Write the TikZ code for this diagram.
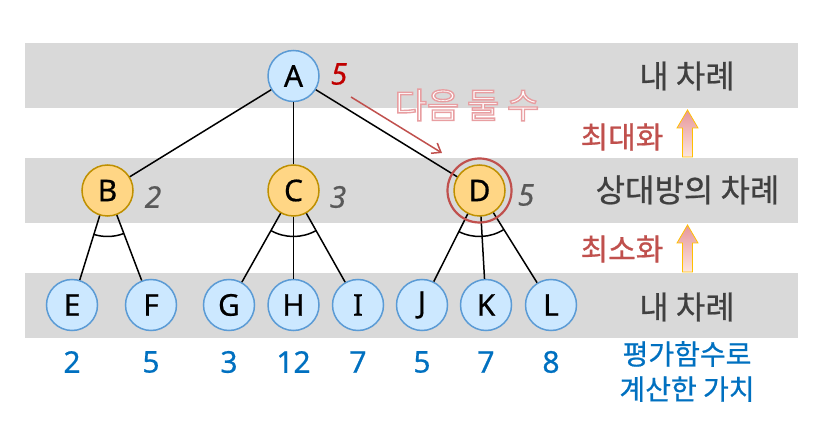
\documentclass[tikz,border=0pt]{standalone}
\usepackage{fontspec}
\setmainfont[FakeBold=0.6]{Noto Sans}
\newfontfamily\kr[FakeBold=0.7]{Noto Sans CJK KR}
\newfontfamily\krglow[FakeBold=4]{Noto Sans CJK KR}
\usetikzlibrary{positioning,
                arrows.meta,                % arrow tips
                calc}                       % let and angle computations

\definecolor{band}{RGB}{217,217,217}
\definecolor{leaffill}{RGB}{204,232,255}
\definecolor{leafdraw}{RGB}{91,155,213}
\definecolor{minfill}{RGB}{255,214,133}
\definecolor{mindraw}{RGB}{191,144,0}
\definecolor{redline}{RGB}{192,80,77}
\definecolor{darkred}{RGB}{192,0,0}
\definecolor{valblue}{RGB}{0,112,192}
\definecolor{labgray}{RGB}{64,64,64}
\definecolor{scoregray}{RGB}{89,89,89}
\definecolor{arrowtop}{RGB}{230,150,155}
\definecolor{arrowbot}{RGB}{252,230,222}
\definecolor{arrowedge}{RGB}{255,192,0}

% white letters with a pink rim
\newcommand{\glowtext}[1]{{\krglow\color{white}\special{pdf:literal direct 0.91 0.62 0.63 RG}#1}}

\tikzset{
  leaf/.style={circle, draw=leafdraw, fill=leaffill, line width=1.5pt,
               minimum size=51pt, inner sep=0pt, font=\fontsize{30}{32}\selectfont},
  minnode/.style={leaf, draw=mindraw, fill=minfill},
  edge/.style={line width=1.5pt, black},
  score/.style={font=\fontsize{30}{32}\selectfont\itshape, text=scoregray},
  value/.style={font=\fontsize{30}{32}\selectfont, text=valblue},
  turn/.style={font=\kr\fontsize{32}{34}\selectfont, text=labgray},
  optlabel/.style={font=\kr\fontsize{30}{32}\selectfont, text=redline},
  uparrow/.style={draw=arrowedge, line width=0.8pt, top color=arrowtop, bottom color=arrowbot},
}

\begin{document}
\begin{tikzpicture}[x=1pt, y=1pt]
    \useasboundingbox (0,0) rectangle (821,439);

    % gray bands for the three levels
    \foreach \yb in {331,216,101}
      \fill[band] (25,\yb) rectangle (798,\yb+65);

    % tree nodes
    \node[leaf] (A) at (293.5,363) {A};
    \node[minnode] (B) at (107.5,248.5) {B};
    \node[minnode] (C) at (293.5,248.5) {C};
    \node[minnode] (D) at (479.5,248.5) {D};
    \foreach \nm/\xx in {E/72, F/151, G/229, H/293.5, I/358, J/422, K/486, L/551}
      \node[leaf] (\nm) at (\xx,134) {\nm};

    \foreach \ch in {B,C,D}
      \draw[edge] (A) -- (\ch);
    \foreach \nd/\ch in {B/E, B/F, C/G, C/H, C/I, D/J, D/K, D/L}
      \draw[edge] (\nd) -- (\ch);

    % min arcs
    \foreach \nd/\ca/\cb in {B/E/F, C/G/I, D/J/L}
      \draw[edge] let \p1=($(\ca)-(\nd)$), \p2=($(\cb)-(\nd)$),
                      \n1={atan2(\y1,\x1)}, \n2={atan2(\y2,\x2)} in
        ($(\nd)!46pt!(\ca)$) arc[start angle=\n1, end angle=\n2, radius=46pt];

    \draw[redline, line width=2.2pt] (D) circle[radius=32pt];

    % backed-up scores
    \node[score, text=darkred] (sA) at (339,365) {5};
    \node[score] (sB) at (153,242) {2};
    \node[score] (sC) at (338,242) {3};
    \node[score] (sD) at (526,244) {5};

    % leaf values
    \foreach \nm/\vv in {E/2, F/5, G/3, H/12, I/7, J/5, K/7, L/8}
      \node[value] (v\nm) at (\nm |- 0,77) {\vv};

    % next move
    \coordinate (nextS) at (351,342);
    \coordinate (nextE) at (442,286);
    \draw[redline, line width=1.5pt, -{Straight Barb[length=8pt, width=12pt]}] (nextS) -- (nextE);
    \node[font=\fontsize{35}{37}\selectfont] (next) at (467,334) {\glowtext{다음 둘 수}};

    % right side labels
    \node[turn] (t1) at (687,363) {내 차례};
    \node[turn] (t2) at (687.5,249) {상대방의 차례};
    \node[turn] (t3) at (687,132) {내 차례};
    \node[optlabel] (mx) at (622,302) {최대화};
    \node[optlabel] (mn) at (622,190) {최소화};
    \foreach \ty in {329,214}
      \draw[uparrow] (687.5,\ty) -- ++(10.5,-18) -- ++(-5.5,0) -- ++(0,-29)
        -- ++(-10,0) -- ++(0,29) -- ++(-5.5,0) -- cycle;
    \node[font=\kr\fontsize{28}{35}\selectfont, text=valblue, align=center] (ev) at (687,67.5)
      {평가함수로\\계산한 가치};
\end{tikzpicture}
\end{document}
